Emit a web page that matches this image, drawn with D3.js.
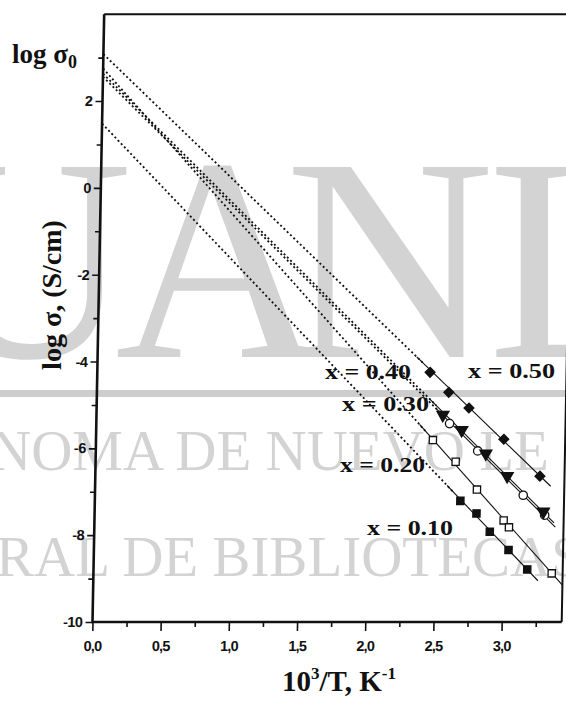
<!DOCTYPE html>
<html><head><meta charset="utf-8">
<script src="https://cdn.jsdelivr.net/npm/d3@7/dist/d3.min.js"></script>
<style>html,body{margin:0;padding:0;background:#fff}svg{display:block}</style>
</head><body>
<svg id="c" width="566" height="702"></svg>
<script>
// ---------- data ----------
const seriesNames = ["x = 0.10", "x = 0.20", "x = 0.30", "x = 0.40", "x = 0.50"];
const s10x = [2.68, 2.80, 2.90, 3.04, 3.18];
const s10y = [-7.21, -7.50, -7.92, -8.34, -8.79];
const s20x = [2.47, 2.64, 2.80, 3.00, 3.04, 3.36];
const s20y = [-5.81, -6.31, -6.95, -7.66, -7.82, -8.88];
const s30x = [2.59, 2.80, 3.14, 3.30];
const s30y = [-5.43, -6.06, -7.08, -7.54];
const s40x = [2.54, 2.68, 2.86, 3.02, 3.29];
const s40y = [-5.23, -5.58, -6.12, -6.64, -7.46];
const s50x = [2.44, 2.58, 2.73, 2.99, 3.26];
const s50y = [-4.25, -4.71, -5.07, -5.79, -6.64];
// fitted log sigma0 (intercept at 1/T = 0) and slopes
const intercepts = [1.48, 2.75, 2.56, 2.63, 3.08];
const slopes = [-3.23, -3.46, -3.07, -3.07, -2.98];
const xTicks = [0, 0.5, 1.0, 1.5, 2.0, 2.5, 3.0];
const xTickLabels = ["0,0", "0,5", "1,0", "1,5", "2,0", "2,5", "3,0"];
const xMinor = [0.25, 0.75, 1.25, 1.75, 2.25, 2.75, 3.25];
const yTicks = [-10, -8, -6, -4, -2, 0, 2];
const yTickLabels = ["-10", "-8", "-6", "-4", "-2", "0", "2"];
const yMinor = [-9, -7, -5, -3, -1, 1, 3];

const seriesX = [s10x, s20x, s30x, s40x, s50x];
const seriesY = [s10y, s20y, s30y, s40y, s50y];

// ---------- layout ----------
const svg = d3.select("#c");
const serif = "'Liberation Serif','Times New Roman',serif";
const sans = "'Liberation Sans',Arial,sans-serif";
const x = d3.scaleLinear().domain([0, 3.44]).range([92.5, 561.7]);
const y = d3.scaleLinear().domain([-10, 4]).range([622, 14.2]);

// watermark (behind)
const wm = svg.append("g").attr("fill", "#d3d3d3").attr("font-family", serif);
[["U", -77], ["A", 115], ["N", 285], ["L", 488]].forEach(([t, px]) => {
  wm.append("text").attr("x", px).attr("y", 357).attr("font-size", 290).text(t);
});
svg.append("rect").attr("x", 0).attr("y", 390).attr("width", 566).attr("height", 7).attr("fill", "#cdcdcd");
wm.append("text").attr("x", -10).attr("y", 470).attr("font-size", 57).text("NOMA DE NUEVO LE");
wm.append("text").attr("x", -4).attr("y", 576).attr("font-size", 57).text("RAL DE BIBLIOTECAS");

// main plot group with slight scan skew
const g = svg.append("g").attr("transform", "translate(0,622) skewX(-1.1) translate(0,-622)");

// axes
function styleAxis(sel) {
  sel.select(".domain").remove();
  sel.selectAll(".tick line").attr("stroke", "#111").attr("stroke-width", 1.6);
}
const xAx = g.append("g").attr("transform", "translate(0,622)")
  .call(d3.axisBottom(x).tickValues(xTicks).tickFormat((d, i) => xTickLabels[i]).tickSize(9).tickPadding(10));
styleAxis(xAx);
xAx.selectAll("text").attr("font-family", sans).attr("font-size", 14.5).attr("font-weight", "bold")
  .attr("letter-spacing", -0.8).attr("fill", "#111");
const xMin = g.append("g").attr("transform", "translate(0,622)")
  .call(d3.axisBottom(x).tickValues(xMinor).tickFormat("").tickSize(5));
styleAxis(xMin);

const yAx = g.append("g").attr("transform", "translate(92.5,0)")
  .call(d3.axisLeft(y).tickValues(yTicks).tickFormat((d, i) => yTickLabels[i]).tickSize(7).tickPadding(3));
styleAxis(yAx);
yAx.selectAll("text").attr("font-family", sans).attr("font-size", 14.5).attr("font-weight", "bold")
  .attr("letter-spacing", -0.5).attr("fill", "#111");
const yMin = g.append("g").attr("transform", "translate(92.5,0)")
  .call(d3.axisLeft(y).tickValues(yMinor).tickFormat("").tickSize(5));
styleAxis(yMin);

// frame
const x0 = x.range()[0], x1 = x.range()[1], yb = y.range()[0], yt = y.range()[1];
g.append("path").attr("d", `M${x0},${yt}L${x1},${yt}L${x1},${yb}`).attr("fill", "none").attr("stroke", "#111").attr("stroke-width", 2);
g.append("path").attr("d", `M${x0},${yt}L${x0},${yb}L${x1},${yb}`).attr("fill", "none").attr("stroke", "#111").attr("stroke-width", 2.6);

// lines
const line = d3.line().x(d => x(d[0])).y(d => y(d[1]));
seriesX.forEach((xs, i) => {
  const b = intercepts[i], m = slopes[i];
  const xf = d3.min(xs), xl = d3.max(xs);
  const xs0 = xf - 0.1, xe = Math.min(xl + 0.08, 3.44);
  g.append("path").attr("d", line([[0, b], [xs0 + 0.05, b + m * (xs0 + 0.05)]]))
    .attr("fill", "none").attr("stroke", "#111").attr("stroke-width", 1.8).attr("stroke-dasharray", "2,2.6");
  g.append("path").attr("d", line([[xs0, b + m * xs0], [xe, b + m * xe]]))
    .attr("fill", "none").attr("stroke", "#111").attr("stroke-width", 1.1);
});

// markers
const markerDefs = [
  { type: d3.symbolSquare, size: 52, fill: "#111", rot: 0 },      // 0.10 filled squares
  { type: d3.symbolSquare, size: 52, fill: "#fff", rot: 0 },      // 0.20 open squares
  { type: d3.symbolCircle, size: 55, fill: "#fff", rot: 0 },      // 0.30 open circles
  { type: d3.symbolTriangle, size: 62, fill: "#111", rot: 180 },  // 0.40 filled triangles
  { type: d3.symbolSquare, size: 48, fill: "#111", rot: 45 }      // 0.50 filled diamonds
];
seriesX.forEach((xs, i) => {
  const md = markerDefs[i];
  const sym = d3.symbol().type(md.type).size(md.size);
  g.append("g").selectAll("path").data(xs.map((v, j) => [v, seriesY[i][j]])).join("path")
    .attr("d", sym)
    .attr("transform", d => `translate(${x(d[0])},${y(d[1])}) rotate(${md.rot})`)
    .attr("fill", md.fill).attr("stroke", "#111").attr("stroke-width", 1.3);
});

// series labels
const labelPos = [[367, 535, 86], [340, 472, 85], [342, 411, 87], [325, 379, 86], [468, 378, 87]];
seriesNames.forEach((t, i) => {
  const [px, py, w] = labelPos[i];
  svg.append("text").attr("x", px).attr("y", py).attr("font-family", serif).attr("font-weight", "bold")
    .attr("font-size", 22).attr("textLength", w).attr("lengthAdjust", "spacingAndGlyphs")
    .attr("fill", "#111").text(t);
});

// titles
const t0 = svg.append("text").attr("x", 12).attr("y", 63).attr("font-family", serif).attr("font-weight", "bold")
  .attr("font-size", 27).attr("fill", "#111");
t0.append("tspan").text("log σ");
t0.append("tspan").attr("font-size", 18).attr("dy", 5).text("0");

svg.append("text").attr("transform", "translate(61,295) rotate(-90)").attr("text-anchor", "middle")
  .attr("font-family", serif).attr("font-weight", "bold").attr("font-size", 28).attr("fill", "#111")
  .text("log σ, (S/cm)");

const xt = svg.append("text").attr("x", 339).attr("y", 691).attr("text-anchor", "middle")
  .attr("font-family", serif).attr("font-weight", "bold").attr("font-size", 29).attr("fill", "#111");
xt.append("tspan").text("10");
xt.append("tspan").attr("font-size", 17).attr("dy", -12).text("3");
xt.append("tspan").attr("dy", 12).text("/T, K");
xt.append("tspan").attr("font-size", 17).attr("dy", -12).text("-1");
</script>
</body></html>
